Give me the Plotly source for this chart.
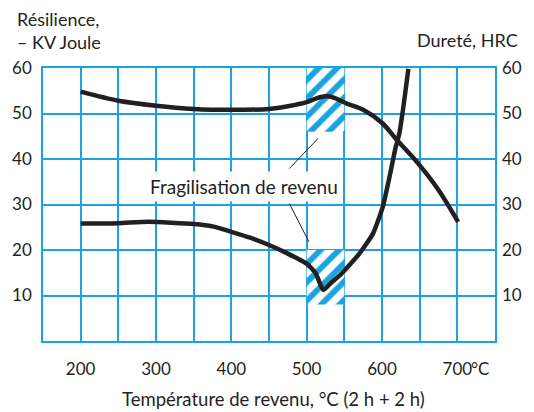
import plotly.graph_objects as go

# Tempering temperature (°C) and hardness (HRC)
temp_hardness = [200, 250, 300, 350, 400, 450, 475, 500, 514, 525, 536, 553, 575, 601, 618, 644, 675, 701]
hardness = [54.8, 52.8, 51.7, 51.0, 50.8, 51.0, 51.6, 52.5, 53.4, 53.8, 53.5, 52.2, 50.8, 47.8, 44.5, 39.8, 33.2, 26.2]

# Tempering temperature (°C) and impact energy KV (J)
temp_resilience = [200, 250, 290, 350, 375, 400, 425, 450, 475, 500, 512, 522, 533, 545, 570, 588, 601, 610, 618, 623, 629, 635]
resilience = [25.8, 25.9, 26.2, 25.7, 25.2, 24.0, 22.7, 21.1, 19.2, 17.0, 14.9, 11.2, 12.9, 14.6, 19.2, 23.6, 29.5, 36.1, 42.5, 45.6, 52.2, 59.8]

# temper embrittlement zones (x range, y range)
zone_x = [500, 550]
zone_top_y = [46, 60]
zone_bottom_y = [8, 20]

# leader lines of the "Fragilisation de revenu" label
leader_top = [(477, 37.9), (515, 44.5)]
leader_bottom = [(477, 30.2), (503, 21.8)]

x_ticks = [150, 200, 250, 300, 350, 400, 450, 500, 550, 600, 650, 700, 750]
x_ticklabels = ["", "200", "", "300", "", "400", "", "500", "", "600", "", "700", ""]
y_ticks = [0, 10, 20, 30, 40, 50, 60]
y_ticklabels = ["", "10", "20", "30", "40", "50", "60"]

BLUE = "#1ba3de"
INK = "#231f20"
FONT = "Lato"

fig = go.Figure()

# hatched zones
for ys in (zone_top_y, zone_bottom_y):
    fig.add_trace(go.Scatter(
        x=[zone_x[0], zone_x[1], zone_x[1], zone_x[0], zone_x[0]],
        y=[ys[0], ys[0], ys[1], ys[1], ys[0]],
        mode="lines",
        fill="toself",
        fillcolor="white",
        fillpattern=dict(shape="/", fgcolor=BLUE, bgcolor="white",
                         fgopacity=1, size=13, solidity=0.45),
        line=dict(width=0),
        hoverinfo="skip",
        showlegend=False
    ))

fig.add_trace(go.Scatter(
    x=temp_resilience, y=resilience,
    mode="lines",
    line=dict(color=INK, width=4.5, shape="spline", smoothing=0.5),
    name="Résilience",
    showlegend=False
))

fig.add_trace(go.Scatter(
    x=temp_hardness, y=hardness,
    mode="lines",
    line=dict(color=INK, width=4.5, shape="spline", smoothing=0.8),
    name="Dureté",
    yaxis="y2",
    showlegend=False
))

for (x0, y0), (x1, y1) in (leader_top, leader_bottom):
    fig.add_shape(type="line", x0=x0, y0=y0, x1=x1, y1=y1,
                  xref="x", yref="y", line=dict(color=INK, width=1))

fig.add_annotation(
    x=417, y=33.9, xref="x", yref="y",
    text="Fragilisation de revenu", showarrow=False,
    font=dict(family=FONT, size=19, color=INK),
    bgcolor="white", borderpad=3
)

fig.add_annotation(
    x=-0.063, y=1.046, xref="paper", yref="paper",
    xanchor="left", yanchor="bottom", align="left",
    text="Résilience,<br>– KV Joule", showarrow=False,
    font=dict(family=FONT, size=18, color=INK)
)
fig.add_annotation(
    x=1.056, y=1.104, xref="paper", yref="paper",
    xanchor="right", yanchor="middle",
    text="Dureté, HRC", showarrow=False,
    font=dict(family=FONT, size=18, color=INK)
)
fig.add_annotation(
    x=700, y=-0.1, xref="x", yref="paper",
    xanchor="left", yanchor="middle", xshift=12,
    text="°C", showarrow=False,
    font=dict(family=FONT, size=17, color=INK)
)
fig.add_annotation(
    x=0.509, y=-0.214, xref="paper", yref="paper",
    xanchor="center", yanchor="middle",
    text="Température de revenu, °C (2 h + 2 h)", showarrow=False,
    font=dict(family=FONT, size=18.5, color=INK)
)

fig.update_layout(
    width=534, height=412,
    margin=dict(l=41, r=33, t=68, b=71),
    paper_bgcolor="white",
    plot_bgcolor="white",
    font=dict(family=FONT, size=17, color=INK),
    xaxis=dict(
        range=[150, 750], tickvals=x_ticks, ticktext=x_ticklabels,
        showgrid=True, gridcolor=BLUE, gridwidth=1.5,
        showline=True, linecolor=BLUE, linewidth=1.5, mirror=True,
        zeroline=False, ticks="", ticklabelstandoff=12
    ),
    yaxis=dict(
        range=[0, 60], tickvals=y_ticks, ticktext=y_ticklabels,
        showgrid=True, gridcolor=BLUE, gridwidth=1.5,
        showline=True, linecolor=BLUE, linewidth=1.5, mirror=True,
        zeroline=False, ticks="", ticklabelstandoff=6
    ),
    yaxis2=dict(
        range=[0, 60], tickvals=y_ticks, ticktext=y_ticklabels,
        overlaying="y", side="right", showgrid=False,
        zeroline=False, ticks="", ticklabelstandoff=6
    ),
)

fig.write_html("out.html", config={"displayModeBar": False},
               post_script="document.body.style.margin='0';")
